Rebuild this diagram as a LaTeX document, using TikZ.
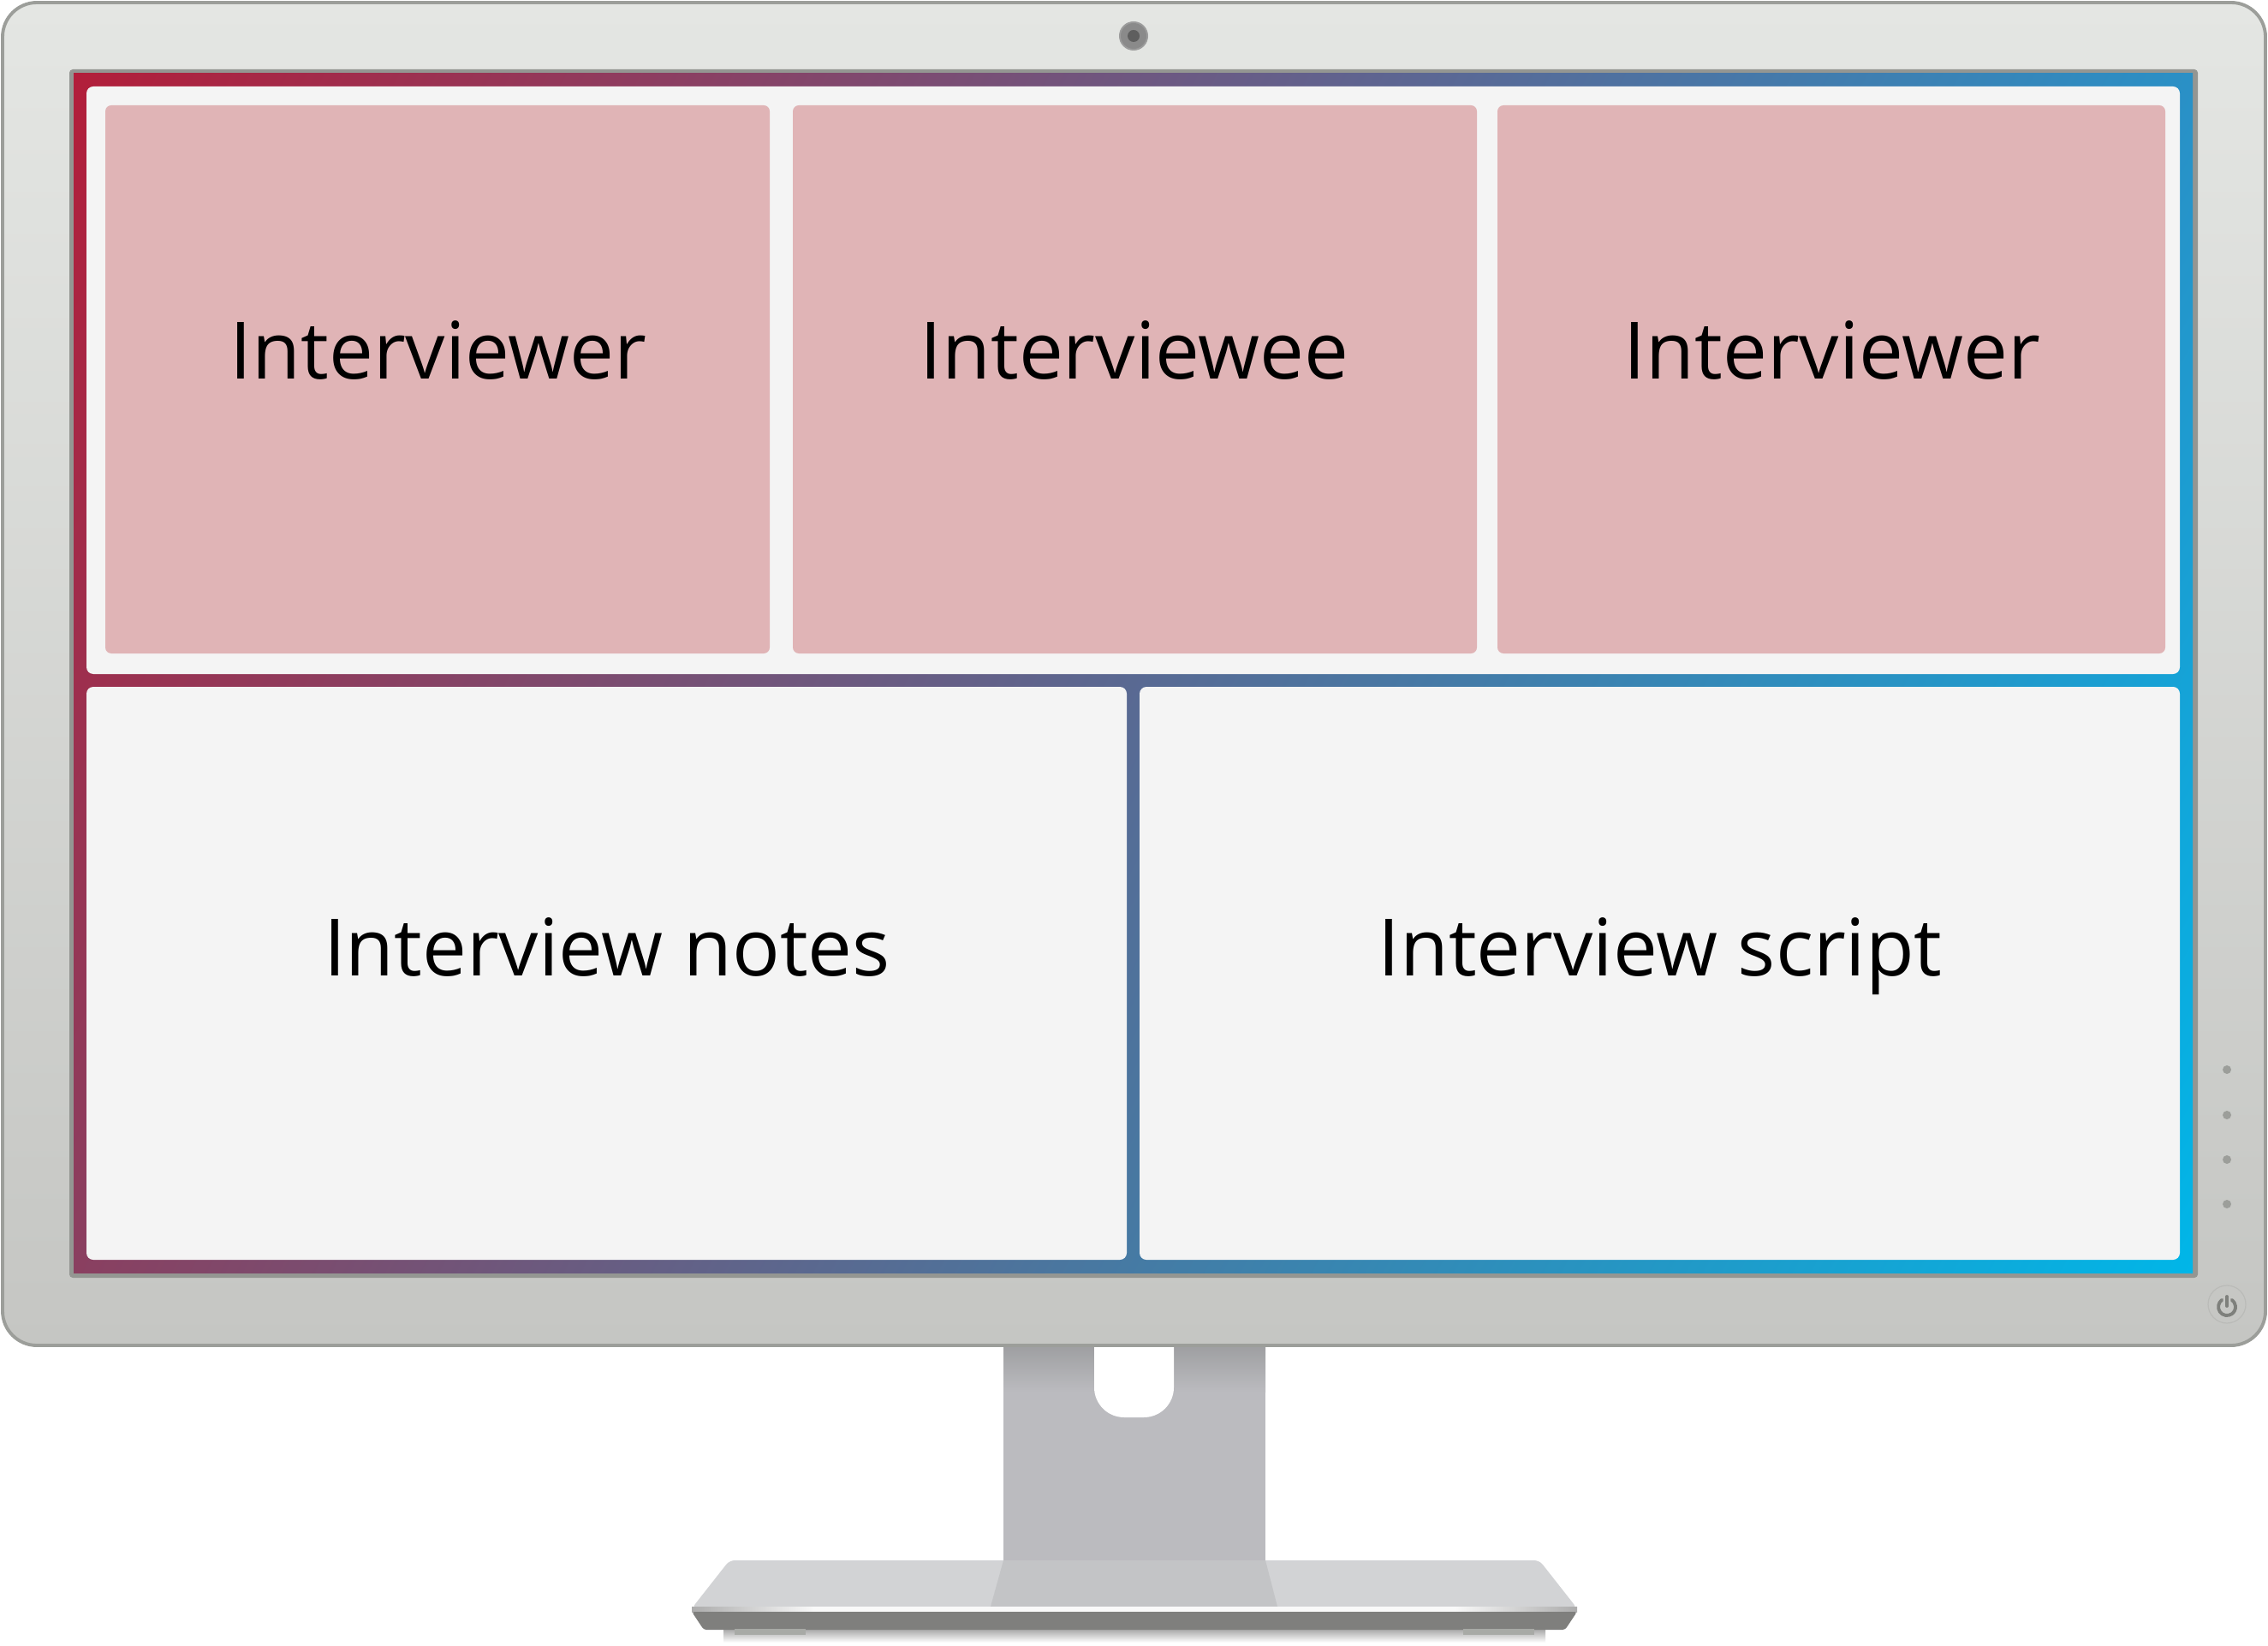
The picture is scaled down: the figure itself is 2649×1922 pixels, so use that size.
\documentclass[tikz,border=0pt]{standalone}
\usepackage{fontspec}
\usetikzlibrary{shadings}
\setmainfont{Open Sans}
\definecolor{bezeltop}{HTML}{E4E6E3}
\definecolor{bezelbot}{HTML}{C5C6C3}
\definecolor{bezelline}{HTML}{9C9E9A}
\definecolor{gUL}{HTML}{B21E3A}
\definecolor{gUR}{HTML}{2A90C6}
\definecolor{gLL}{HTML}{8A3F60}
\definecolor{gLR}{HTML}{00B6E8}
\definecolor{panel}{HTML}{F4F4F4}
\definecolor{pinkbox}{HTML}{E0B4B6}
\definecolor{neck}{HTML}{BBBBBF}
\definecolor{necktop}{HTML}{98999B}
\definecolor{basetop}{HTML}{D2D3D5}
\definecolor{basemid}{HTML}{C3C4C6}
\definecolor{basefront}{HTML}{7F7F7D}
\definecolor{foot}{HTML}{A8AAA6}
\definecolor{camring}{HTML}{8A8A8A}
\definecolor{camlens}{HTML}{5E5E5E}
\definecolor{dotc}{HTML}{9C9E9A}
\definecolor{pwrc}{HTML}{7E807C}
\begin{document}
\begin{tikzpicture}[x=0.01cm,y=-0.01cm,
  lbl/.style={font=\fontsize{26.3}{31}\selectfont, text=black, inner sep=0pt, anchor=base},
  pinkpanel/.style={fill=pinkbox, rounded corners=0.07cm},
  whitepanel/.style={fill=panel, rounded corners=0.08cm},
  pwr/.style={draw=pwrc, line width=1.1pt, line cap=round},
  sidedot/.style={fill=dotc}]
\useasboundingbox (0,0) rectangle (2649,1922);

% ---------- stand neck ----------
\fill[neck] (1172,1560) rectangle (1478,1822);
\shade[top color=necktop, bottom color=neck] (1172,1560) rectangle (1478,1625);
\fill[white, rounded corners=0.35cm] (1278,1480) -- (1278,1655) -- (1371,1655) -- (1371,1480) -- cycle;

% ---------- base ----------
\shade[top color=black!35, bottom color=white] (845,1902) rectangle (1805,1918);
\fill[basetop, rounded corners=0.06cm] (808,1878) -- (852,1822) -- (1798,1822) -- (1842,1878) -- cycle;
\fill[basemid] (1172,1822) -- (1478,1822) -- (1492,1876) -- (1157,1876) -- cycle;
\fill[white!95!gray] (950,1876) rectangle (1700,1882);
\shade[left color=gray!65, right color=white!95!gray] (808,1876) rectangle (950,1882);
\shade[left color=white!95!gray, right color=gray!65] (1700,1876) rectangle (1842,1882);
\fill[basefront, rounded corners=0.03cm] (808,1882) -- (1842,1882) -- (1828,1903) -- (822,1903) -- cycle;
\fill[foot] (858,1902) rectangle (941,1909);
\fill[foot] (1709,1902) rectangle (1792,1909);

% ---------- monitor body ----------
\shadedraw[top color=bezeltop, bottom color=bezelbot, draw=bezelline, line width=1.1pt, rounded corners=0.4cm]
  (3,3) rectangle (2646,1571);

% webcam
\fill[camring!85!white] (1324,42) circle (17);
\fill[camring] (1324,42) circle (15);
\fill[camlens] (1324,42) circle (7);

% side buttons
\foreach \yy in {1249,1302,1354,1406} \fill[sidedot] (2601,\yy) circle (5);

% power button
\draw[draw=dotc!70!white, line width=0.35pt] (2601,1523) circle (22);
\begin{scope}[shift={(2601,1526)}, y=0.01cm]
  \draw[pwr] (125:10) arc[start angle=125, end angle=415, radius=10];
  \draw[pwr] (0,1) -- (0,12);
\end{scope}

% ---------- screen ----------
\fill[bezelline!95!black, rounded corners=0.04cm] (81,81) rectangle (2567,1492);
\shade[upper left=gUL, upper right=gUR, lower left=gLL, lower right=gLR] (86,86) rectangle (2561,1486);

% top white panel and video tiles
\fill[whitepanel] (101,101) rectangle (2546,787);
\fill[pinkpanel] (123,123) rectangle (899,763);
\fill[pinkpanel] (926,123) rectangle (1725,763);
\fill[pinkpanel] (1749,123) rectangle (2529,763);

% bottom panels
\fill[whitepanel] (101,802) rectangle (1316,1471);
\fill[whitepanel] (1331,802) rectangle (2546,1471);

% labels
\node[lbl] (iv1) at (512,443) {Interviewer};
\node[lbl] (ive) at (1325,443) {Interviewee};
\node[lbl] (iv2) at (2140,443) {Interviewer};
\node[lbl] (notes) at (709,1139) {Interview notes};
\node[lbl] (script) at (1939,1139) {Interview script};
\end{tikzpicture}
\end{document}
